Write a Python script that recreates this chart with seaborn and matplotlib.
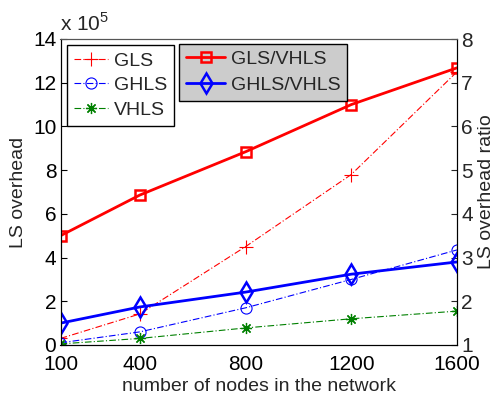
import matplotlib
matplotlib.use("Agg")
import matplotlib.pyplot as plt
import seaborn as sns
import numpy as np

nodes = [100, 400, 800, 1200, 1600]
gls = [0.3, 1.42, 4.5, 7.8, 12.5]
ghls = [0.1, 0.6, 1.7, 3.0, 4.35]
vhls = [0.05, 0.3, 0.78, 1.2, 1.55]
gls_ratio = [3.5, 4.43, 5.42, 6.5, 7.34]
ghls_ratio = [1.5, 1.87, 2.21, 2.62, 2.9]
xticks = [100, 400, 800, 1200, 1600]

sns.set_style("white")
plt.rcParams['font.family'] = ['Liberation Sans', 'DejaVu Sans']
plt.rcParams['mathtext.fontset'] = 'custom'
plt.rcParams['mathtext.rm'] = 'Liberation Sans'

fig = plt.figure(figsize=(4.96, 3.97), dpi=100)
ax = fig.add_axes([60.5/496, 1 - 345/397, (457-60.5)/496, (345-39)/397])
ax2 = ax.twinx()

thin = dict(linewidth=0.8, linestyle=(0, (6, 2, 1, 2)))
sns.lineplot(x=nodes, y=gls, ax=ax, color='red', marker='+', markersize=10,
             markeredgecolor='red', markeredgewidth=0.8, label='GLS', **thin)
sns.lineplot(x=nodes, y=ghls, ax=ax, color='blue', marker='o', markersize=8,
             markerfacecolor='none', markeredgecolor='blue', markeredgewidth=0.8,
             label='GHLS', **thin)
sns.lineplot(x=nodes, y=vhls, ax=ax, color='#008000', marker=(8, 2, 0), markersize=8,
             markeredgecolor='#008000', markeredgewidth=0.9, label='VHLS', **thin)

sns.lineplot(x=nodes, y=gls_ratio, ax=ax2, color='red', marker='s', markersize=7.5,
             markerfacecolor='none', markeredgecolor='red', markeredgewidth=1.8,
             linewidth=2, label='GLS/VHLS')
sns.lineplot(x=nodes, y=ghls_ratio, ax=ax2, color='blue', marker='d', markersize=10,
             markerfacecolor='none', markeredgecolor='blue', markeredgewidth=1.8,
             linewidth=2, label='GHLS/VHLS')

ax.set_xlim(100, 1600)
ax.set_ylim(0, 14)
ax2.set_ylim(1, 8)
ax.set_xticks(xticks)
ax.set_xticklabels([str(t) for t in xticks])
ax.set_yticks(np.arange(0, 15, 2))
ax2.set_yticks(np.arange(1, 9, 1))

for a in (ax, ax2):
    for s in a.spines.values():
        s.set_visible(True)
        s.set_color('black')
        s.set_linewidth(0.8)
    a.spines['top'].set_color('#555555')
ax.tick_params(axis='both', direction='in', length=4, labelsize=15, width=0.8,
               colors='black', pad=3)
ax.tick_params(axis='x', pad=7)
ax2.tick_params(axis='y', direction='in', length=4, labelsize=15, width=0.8, pad=3)

ax.set_xlabel('number of nodes in the network', fontsize=14, labelpad=3)
ax.set_ylabel('LS overhead', fontsize=14, labelpad=4)
ax2.set_ylabel('LS overhead ratio', fontsize=14, labelpad=4)

ax.text(0.0, 1.015, r'x 10$^5$', transform=ax.transAxes, fontsize=15,
        ha='left', va='bottom')

leg1 = ax.legend(loc='upper left', bbox_to_anchor=(0.016, 0.98), fontsize=14,
                 frameon=True, fancybox=False, edgecolor='black', framealpha=1,
                 handlelength=1.75, borderpad=0.35, labelspacing=0.36, handletextpad=0.3,
                 borderaxespad=0)
leg1.get_frame().set_linewidth(1.0)
leg2 = ax2.legend(loc='upper left', bbox_to_anchor=(0.3, 0.985), fontsize=14,
                  frameon=True, fancybox=False, edgecolor='black', framealpha=1,
                  facecolor='#cccccc', handlelength=2.0, borderpad=0.35,
                  labelspacing=0.42, handletextpad=0.3, borderaxespad=0)
leg2.get_frame().set_linewidth(1.0)

fig.savefig('out.png', dpi=100)
